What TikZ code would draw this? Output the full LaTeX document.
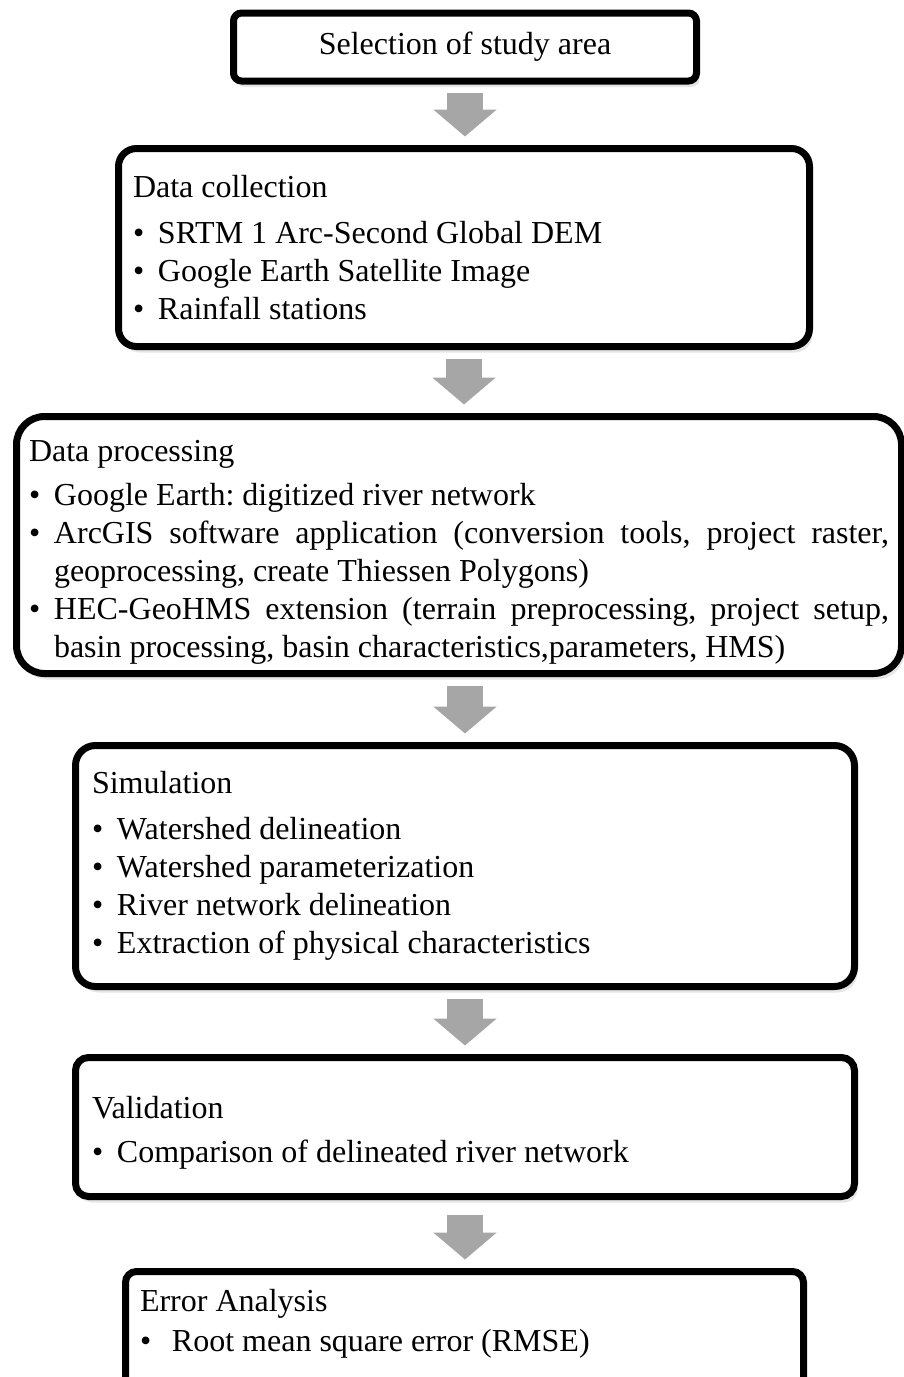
\documentclass[tikz,border=0pt]{standalone}
\usepackage{fontspec}
\setmainfont{Liberation Serif}
\usetikzlibrary{arrows.meta,shadows}
\definecolor{flowgray}{HTML}{A6A6A6}
\frenchspacing
\hyphenpenalty=10000
\exhyphenpenalty=10000
\tolerance=9999
\newcommand{\bitem}[2][25pt]{\par\hangindent=#1\hangafter=1\noindent\makebox[#1][l]{\textbullet}#2}

\begin{document}
\begin{tikzpicture}[x=1pt,y=-1pt,
    stagebox/.style={draw, line width=7pt, fill=white,
      drop shadow={shadow xshift=3pt,shadow yshift=-6pt,opacity=0.2},
      font=\fontsize{32}{38}\selectfont, inner ysep=0pt},
    listbox/.style={stagebox, align=justify},
    flow/.style={flowgray, line width=36pt, -{Triangle[width=62pt,length=27pt]},
      shorten <=8.5pt, shorten >=8.5pt}]
  \useasboundingbox (0,0) rectangle (904,1377);

  \node[stagebox, rounded corners=8pt, minimum width=463pt, minimum height=68pt] (select) at (465,47) {Selection of study area};

  \node[listbox, rounded corners=18pt, text width=662pt, inner xsep=14.5pt, minimum height=198pt] (collect) at (464,247.5)
    {Data collection\par\vspace{8pt}
     \bitem{SRTM 1 Arc-Second Global DEM}
     \bitem{Google Earth Satellite Image}
     \bitem{Rainfall stations}\par};

  \node[listbox, rounded corners=28pt, text width=860pt, inner xsep=12.5pt, minimum height=257pt] (process) at (459,545)
    {\rule{0pt}{36pt}Data processing\par\vspace{6pt}
     \bitem{Google Earth: digitized river network}
     \bitem{ArcGIS software application (conversion tools, project raster, geoprocessing, create Thiessen Polygons)}
     \bitem{HEC-GeoHMS extension (terrain preprocessing, project setup, basin processing, basin characteristics,parameters, HMS)}\par};

  \node[listbox, rounded corners=20pt, text width=746pt, inner xsep=16.5pt, minimum height=241pt] (simul) at (465,866)
    {Simulation\par\vspace{8pt}
     \bitem{Watershed delineation}
     \bitem{Watershed parameterization}
     \bitem{River network delineation}
     \bitem{Extraction of physical characteristics}\par};

  \node[listbox, rounded corners=13pt, text width=746pt, inner xsep=16.5pt, minimum height=139pt] (valid) at (465,1127)
    {\rule{0pt}{34pt}Validation\par\vspace{6pt}
     \bitem{Comparison of delineated river network}\par};

  \node[listbox, rounded corners=11pt, text width=649pt, inner xsep=14.5pt, minimum height=118.5pt] (error) at (464.5,1330.75)
    {Error Analysis\par\vspace{2pt}
     \bitem[32pt]{Root mean square error (RMSE)\rule[-21pt]{0pt}{1pt}}\par};

  % block arrows between the stages
  \draw[flow] (select.south) -- (select.south |- collect.north);
  \draw[flow] (collect.south) -- (collect.south |- process.north);
  \draw[flow] (simul.north |- process.south) -- (simul.north);
  \draw[flow] (simul.south) -- (valid.north);
  \draw[flow, shorten <=14.5pt] (valid.south) -- (valid.south |- error.north);
\end{tikzpicture}
\end{document}
